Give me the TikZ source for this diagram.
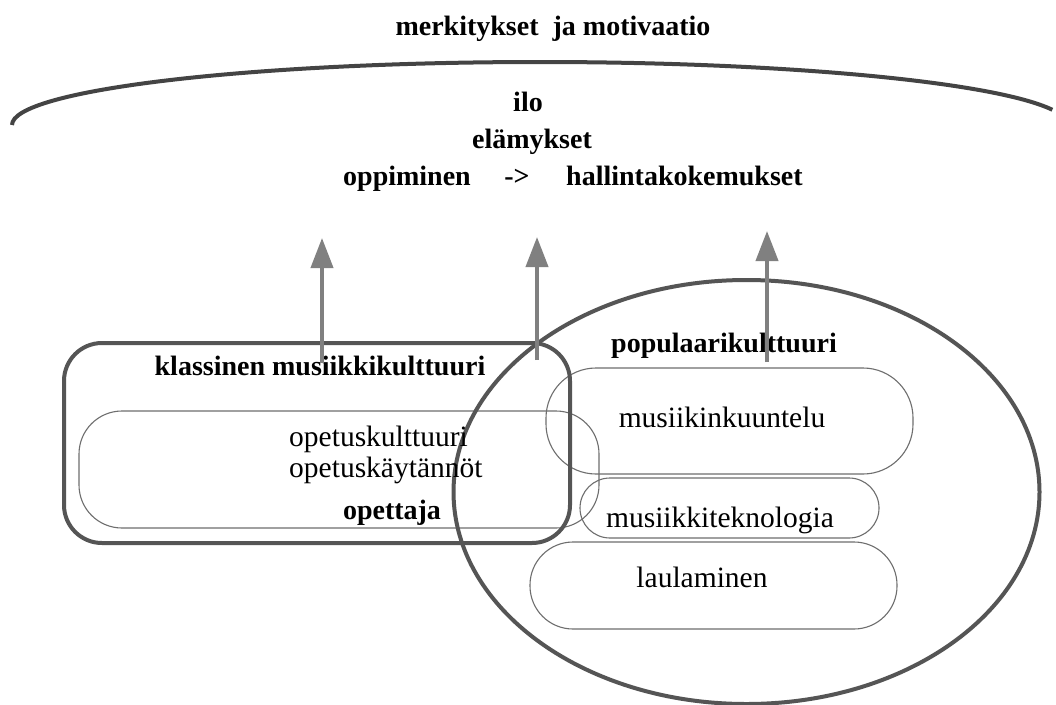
\documentclass[tikz,border=0pt]{standalone}
\usepackage{fontspec}
\setmainfont{Liberation Serif}
\usetikzlibrary{arrows.meta,shapes.geometric}
\definecolor{arcgray}{HTML}{444444}
\definecolor{boxgray}{HTML}{555555}
\definecolor{thingray}{HTML}{6E6E6E}
\definecolor{arrowgray}{HTML}{808080}
\begin{document}
\begin{tikzpicture}[x=1pt,y=-1pt,
  boldtxt/.style={font=\fontsize{28}{32}\selectfont\bfseries, inner sep=0pt},
  regtxt/.style={font=\fontsize{29.5}{34}\selectfont, inner sep=0pt},
  thickbox/.style={draw=boxgray, line width=4pt, rectangle, inner sep=0pt},
  pill/.style={draw=thingray, line width=1.1pt, rectangle, inner sep=0pt},
  uparrow/.style={draw=arrowgray, line width=4pt, -{Triangle[length=30pt,width=22pt]}},
]
\fill[white] (0,0) rectangle (1056,704);
\useasboundingbox (0,0) rectangle (1056,704);

% top arc
\coordinate (arcL) at (12,125);
\draw[arcgray, line width=4pt] (arcL) arc[start angle=180, end angle=14, x radius=528pt, y radius=63pt];

% containers
\node[pill, rounded corners=43pt, minimum width=520pt, minimum height=117pt] (inner) at (339,469.5) {};
\node[pill, rounded corners=50pt, minimum width=367pt, minimum height=106pt] (p1) at (729.5,421) {};
\node[pill, rounded corners=30pt, minimum width=299pt, minimum height=60pt] (p2) at (729.5,508) {};
\node[pill, rounded corners=43pt, minimum width=367pt, minimum height=87pt] (p3) at (713.5,585.5) {};
\node[thickbox, rounded corners=38pt, minimum width=506pt, minimum height=200pt] (klbox) at (317,443) {};
\node[ellipse, draw=boxgray, line width=4pt, inner sep=0pt, minimum width=586pt, minimum height=424pt] (pop) at (746.5,492) {};

% texts
\node[boldtxt, anchor=base] (title) at (553,35) {merkitykset\ \ ja motivaatio};
\node[boldtxt, anchor=base] (ilo) at (528,111) {ilo};
\node[boldtxt, anchor=base] (elam) at (532,148) {elämykset};
\node[boldtxt, anchor=base west] (opp) at (343,185) {oppiminen};
\node[boldtxt, anchor=base] (imp) at (517,185) {{-}{>}};
\node[boldtxt, anchor=base west] (hall) at (566,185) {hallintakokemukset};
\node[boldtxt, anchor=base] (klass) at (320,375) {klassinen musiikkikulttuuri};
\node[boldtxt, anchor=base] (popl) at (724,352) {populaarikulttuuri};
\node[regtxt, anchor=base west] (ok1) at (289,446) {opetuskulttuuri};
\node[regtxt, anchor=base west] (ok2) at (289,477) {opetuskäytännöt};
\node[boldtxt, anchor=base] (opet) at (392,519) {opettaja};
\node[regtxt, anchor=base] (mk) at (722,427) {musiikinkuuntelu};
\node[regtxt, anchor=base] (mt) at (720,527) {musiikkiteknologia};
\node[regtxt, anchor=base] (la) at (702,587) {laulaminen};

% arrows
\coordinate (a1s) at (322,363); \coordinate (a1e) at (322,238);
\coordinate (a2s) at (537,360); \coordinate (a2e) at (537,237);
\coordinate (a3s) at (767,362); \coordinate (a3e) at (767,231);
\draw[uparrow] (a1s) -- (a1e);
\draw[uparrow] (a2s) -- (a2e);
\draw[uparrow] (a3s) -- (a3e);
\end{tikzpicture}
\end{document}
